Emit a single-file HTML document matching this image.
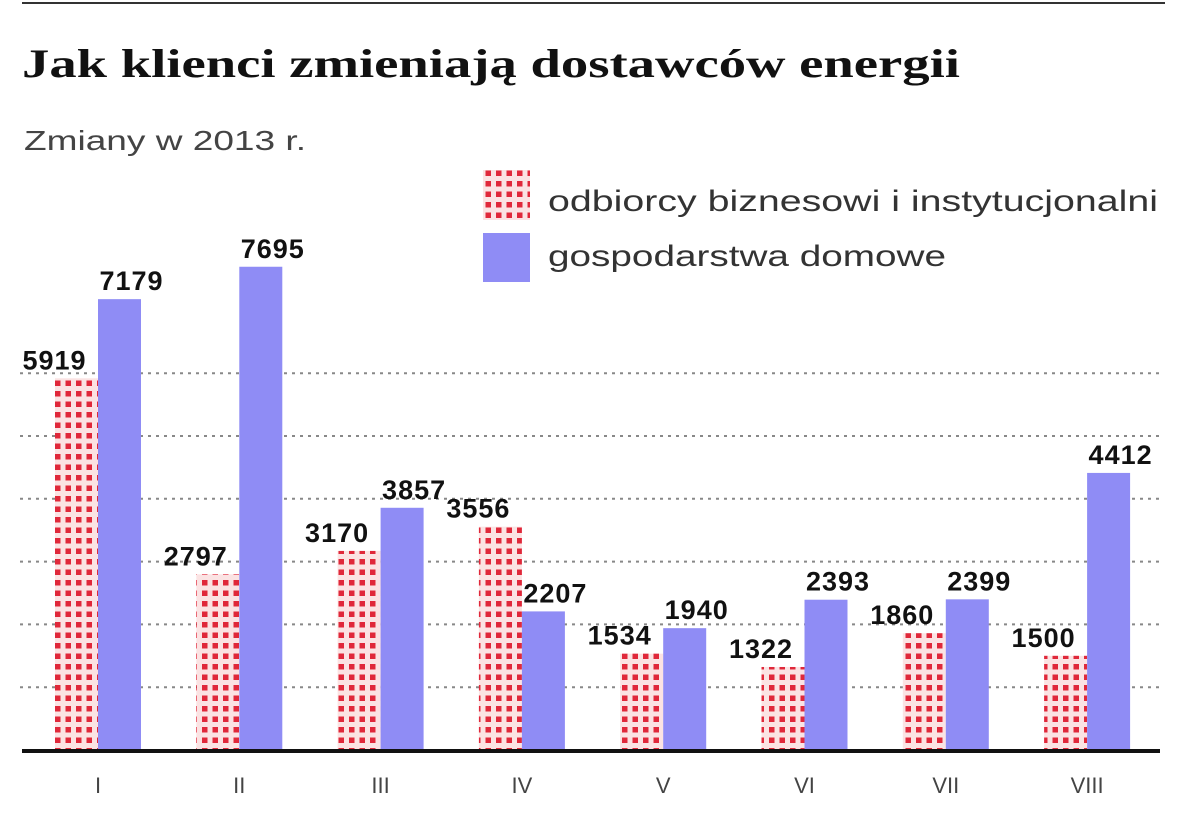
<!DOCTYPE html>
<html><head><meta charset="utf-8"><style>
body{margin:0;background:#fff;width:1200px;height:815px;overflow:hidden;font-family:"Liberation Sans",sans-serif}
</style></head><body>
<svg width="1200" height="815" xmlns="http://www.w3.org/2000/svg">
<defs>
<pattern id="dots" width="10.5" height="10.5" patternUnits="userSpaceOnUse">
<rect width="10.5" height="10.5" fill="#fbe3e3"/>
<rect x="2.5" y="2.5" width="5.5" height="5.5" fill="#e0283a"/>
</pattern>
</defs>
<line x1="22" y1="3" x2="1165" y2="3" stroke="#333" stroke-width="2"/>
<text x="22" y="77" font-family="Liberation Serif,serif" font-weight="bold" font-size="40" fill="#111" textLength="938" lengthAdjust="spacingAndGlyphs">Jak klienci zmieniają dostawców energii</text>
<text x="24" y="150" font-size="28" fill="#444" textLength="282" lengthAdjust="spacingAndGlyphs">Zmiany w 2013 r.</text>
<rect x="483" y="170" width="47" height="50" fill="url(#dots)"/>
<text x="548" y="211" font-size="30" fill="#333" textLength="610" lengthAdjust="spacingAndGlyphs">odbiorcy biznesowi i instytucjonalni</text>
<rect x="483" y="233" width="47" height="49" fill="#8f8cf5"/>
<text x="548" y="266" font-size="30" fill="#333" textLength="398" lengthAdjust="spacingAndGlyphs">gospodarstwa domowe</text>
<g id="grid"></g><g id="bars"></g>
<line x1="22" y1="751" x2="1160" y2="751" stroke="#111" stroke-width="4"/>
</svg>
<script>
const months=["I","II","III","IV","V","VI","VII","VIII"];
const business=[5919,2797,3170,3556,1534,1322,1860,1500];
const households=[7179,7695,3857,2207,1940,2393,2399,4412];
const gridValues=[1000,2000,3000,4000,5000,6000];
const NS="http://www.w3.org/2000/svg";
const base=750, k=0.0628, x0=55, step=141.3, bw=43;
const y=v=>base-v*k;
const g=document.getElementById("grid"), b=document.getElementById("bars");
function mk(tag,attrs,parent,txt){const e=document.createElementNS(NS,tag);for(const a in attrs)e.setAttribute(a,attrs[a]);if(txt!==undefined)e.textContent=txt;parent.appendChild(e);return e;}
gridValues.forEach(v=>{
 const l=mk("line",{x1:20,x2:1160,y1:y(v),y2:y(v),stroke:"#888","stroke-width":2,"stroke-dasharray":"3 5"},g);
 
 
});
months.forEach((m,i)=>{
 const xr=x0+i*step, xb=xr+bw;
 const r=mk("rect",{x:xr,y:y(business[i]),width:bw,height:base-y(business[i]),fill:"url(#dots)"},b);
 
 
 const r2=mk("rect",{x:xb,y:y(households[i]),width:bw,height:base-y(households[i]),fill:"#8f8cf5"},b);
 
 
 const t1=mk("text",{x:xr+bw/2-22,y:y(business[i])-9,"text-anchor":"middle","font-size":27,"font-weight":"bold","letter-spacing":"1",fill:"#111"},b,business[i]);
 
 
 const t2=mk("text",{x:xb+bw/2+12,y:y(households[i])-9,"text-anchor":"middle","font-size":27,"font-weight":"bold","letter-spacing":"1",fill:"#111"},b,households[i]);
 
 
 const t3=mk("text",{x:xb,y:793,"text-anchor":"middle","font-size":22,fill:"#444"},b,m);
 
 
});
</script>
</body></html>
